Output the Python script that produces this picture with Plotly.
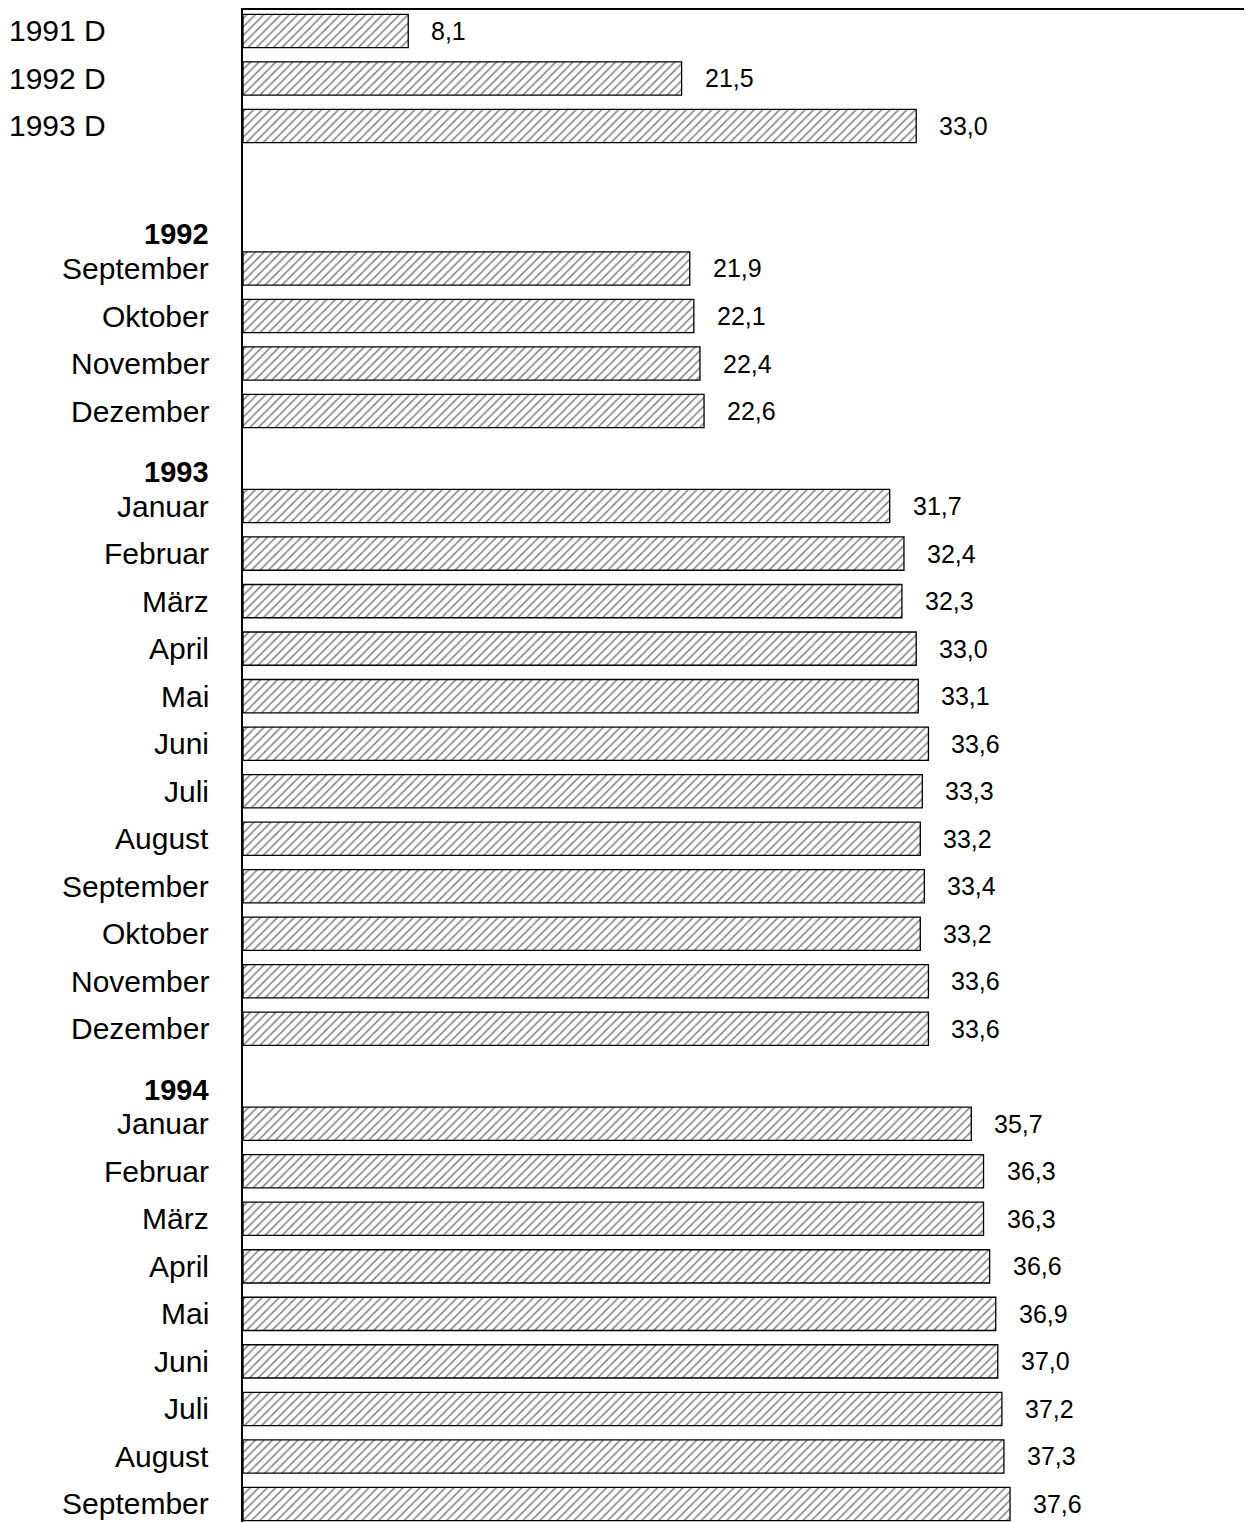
import plotly.graph_objects as go

# ---- data ----
summary_labels = ["1991 D", "1992 D", "1993 D"]
summary_values = [8.1, 21.5, 33.0]

year_1992 = "1992"
months_1992 = ["September", "Oktober", "November", "Dezember"]
values_1992 = [21.9, 22.1, 22.4, 22.6]

year_1993 = "1993"
months_1993 = ["Januar", "Februar", "März", "April", "Mai", "Juni", "Juli",
               "August", "September", "Oktober", "November", "Dezember"]
values_1993 = [31.7, 32.4, 32.3, 33.0, 33.1, 33.6, 33.3, 33.2, 33.4, 33.2, 33.6, 33.6]

year_1994 = "1994"
months_1994 = ["Januar", "Februar", "März", "April", "Mai", "Juni", "Juli",
               "August", "September"]
values_1994 = [35.7, 36.3, 36.3, 36.6, 36.9, 37.0, 37.2, 37.3, 37.6]

# ---- layout of rows ----
groups = [
    (None, summary_labels, summary_values, 0),
    (year_1992, months_1992, values_1992, 3),
    (year_1993, months_1993, values_1993, 2),
    (year_1994, months_1994, values_1994, 2),
]

# page has an 8px body margin; compensate
W, H = 1244, 1514
L, T = 235, 2
plot_w = W - L
FONT = "Liberation Sans, Arial, Helvetica, sans-serif"

ys, xs, txts = [], [], []
annotations = []
row = -1
for header, labels, vals, gap in groups:
    row += gap if header is not None else 1
    first = True
    for i, (lab, v) in enumerate(zip(labels, vals)):
        if not first:
            row += 1
        if first and header is not None:
            annotations.append(dict(
                x=-32 / plot_w, xref="paper", y=row - 0.72, yref="y",
                text="<b>" + header + "</b>", showarrow=False,
                xanchor="right", yanchor="middle",
                font=dict(size=29, color="black", family=FONT)))
        first = False
        ys.append(row)
        xs.append(v)
        txts.append(f"{v:.1f}".replace(".", ","))
        if header is None:
            annotations.append(dict(
                x=(-1 - L) / plot_w, xref="paper", y=row, yref="y",
                text=lab, showarrow=False, xanchor="left", yanchor="middle",
                font=dict(size=30, color="black", family=FONT)))
        else:
            annotations.append(dict(
                x=-32 / plot_w, xref="paper", y=row, yref="y",
                text=lab, showarrow=False, xanchor="right", yanchor="middle",
                font=dict(size=30, color="black", family=FONT)))

for x, y, t in zip(xs, ys, txts):
    annotations.append(dict(
        x=x, xref="x", y=y, yref="y", text=t, showarrow=False,
        xanchor="left", yanchor="middle", xshift=21,
        font=dict(size=25, color="black", family=FONT)))

fig = go.Figure(go.Bar(
    x=xs, y=ys, orientation="h", width=0.7,
    marker=dict(
        color="white",
        line=dict(color="black", width=1.3),
        pattern=dict(shape="/", fgcolor="black", bgcolor="white",
                     size=6, solidity=0.25),
    ),
    hoverinfo="skip",
))

fig.update_layout(
    width=W, height=H,
    margin=dict(l=L, r=0, t=T, b=0),
    paper_bgcolor="white", plot_bgcolor="white",
    showlegend=False,
    annotations=annotations,
    xaxis=dict(range=[0, plot_w / 20.4], side="top", showline=True,
               linecolor="black", linewidth=2, showgrid=False,
               zeroline=False, showticklabels=False, ticks=""),
    yaxis=dict(range=[31.38, -0.44], showline=True, linecolor="black",
               linewidth=2, showgrid=False, zeroline=False,
               showticklabels=False, ticks=""),
)

fig.write_html("out.html")
